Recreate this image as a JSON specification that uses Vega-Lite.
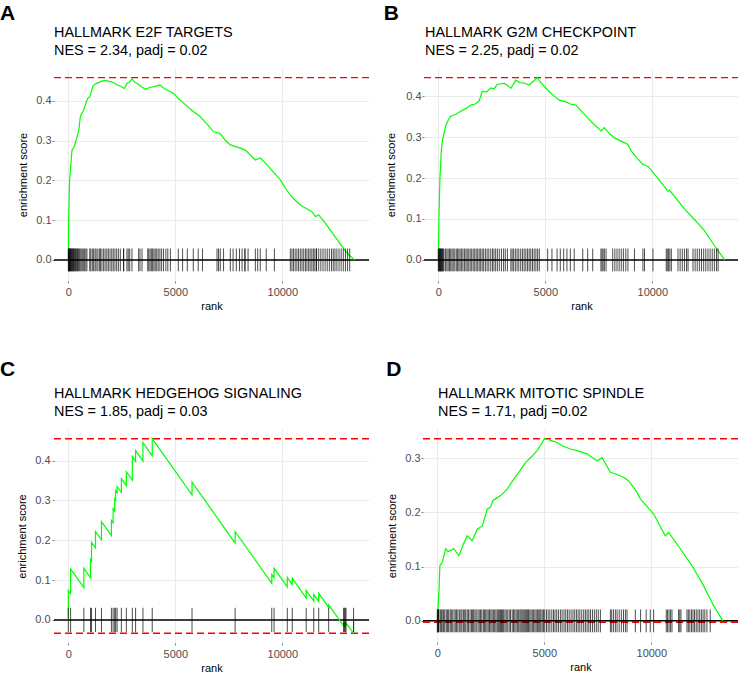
{
  "$schema": "https://vega.github.io/schema/vega-lite/v6.json",
  "padding": {"left": 0, "top": 3, "right": 0, "bottom": 0},
  "background": "white",
  "config": {
    "font": "Liberation Sans",
    "view": {"stroke": null},
    "title": {"font": "Liberation Sans", "color": "black", "anchor": "start", "frame": "group", "subtitleFont": "Liberation Sans", "subtitleColor": "black", "subtitleFontSize": 14.4, "subtitlePadding": 3, "fontWeight": "normal", "fontSize": 14.4},
    "axis": {"domain": false, "grid": true, "gridColor": "#EBEBEB", "gridWidth": 1, "tickColor": "#7F7F7F", "tickSize": 2, "labelColor": "#4D4D4D", "labelFontSize": 11, "labelFont": "Liberation Sans", "titleFont": "Liberation Sans", "titleFontSize": 11, "titleFontWeight": "normal", "titleColor": "black", "labelFlush": false, "labelOverlap": false},
    "axisX": {"labelPadding": 3.5, "titlePadding": 3},
    "axisY": {"labelPadding": 1}
  },
  "datasets": {
    "ticksA": [{"rank":0},{"rank":15},{"rank":30},{"rank":45},{"rank":60},{"rank":80},{"rank":100},{"rank":120},{"rank":140},{"rank":165},{"rank":190},{"rank":215},{"rank":240},{"rank":270},{"rank":300},{"rank":330},{"rank":360},{"rank":395},{"rank":430},{"rank":470},{"rank":510},{"rank":550},{"rank":600},{"rank":650},{"rank":700},{"rank":760},{"rank":820},{"rank":870},{"rank":1000},{"rank":1050},{"rank":1120},{"rank":1180},{"rank":1250},{"rank":1300},{"rank":1380},{"rank":1450},{"rank":1500},{"rank":1570},{"rank":1650},{"rank":1720},{"rank":1800},{"rank":1870},{"rank":1950},{"rank":2030},{"rank":2100},{"rank":2180},{"rank":2260},{"rank":2340},{"rank":2430},{"rank":2580},{"rank":2590},{"rank":2740},{"rank":2800},{"rank":2870},{"rank":2975},{"rank":3285},{"rank":3350},{"rank":3445},{"rank":3710},{"rank":3760},{"rank":3820},{"rank":3880},{"rank":3940},{"rank":4000},{"rank":4060},{"rank":4130},{"rank":4200},{"rank":4280},{"rank":4360},{"rank":4450},{"rank":4560},{"rank":4650},{"rank":4770},{"rank":5140},{"rank":5340},{"rank":5560},{"rank":5840},{"rank":6070},{"rank":6270},{"rank":6950},{"rank":7020},{"rank":7100},{"rank":7255},{"rank":7570},{"rank":7700},{"rank":7850},{"rank":8000},{"rank":8120},{"rank":8250},{"rank":8260},{"rank":8400},{"rank":8740},{"rank":8850},{"rank":8970},{"rank":9250},{"rank":9630},{"rank":10375},{"rank":10450},{"rank":10520},{"rank":10600},{"rank":10680},{"rank":10760},{"rank":10840},{"rank":10920},{"rank":11000},{"rank":11080},{"rank":11150},{"rank":11230},{"rank":11300},{"rank":11380},{"rank":11450},{"rank":11520},{"rank":11590},{"rank":11600},{"rank":11700},{"rank":11800},{"rank":11900},{"rank":12000},{"rank":12100},{"rank":12200},{"rank":12300},{"rank":12380},{"rank":12460},{"rank":12550},{"rank":12650},{"rank":12750},{"rank":12850},{"rank":12950},{"rank":13050},{"rank":13150}],
    "ticksB": [{"rank":0},{"rank":20},{"rank":40},{"rank":60},{"rank":80},{"rank":100},{"rank":125},{"rank":150},{"rank":175},{"rank":200},{"rank":230},{"rank":265},{"rank":340},{"rank":400},{"rank":460},{"rank":520},{"rank":580},{"rank":640},{"rank":700},{"rank":770},{"rank":840},{"rank":900},{"rank":960},{"rank":1020},{"rank":1090},{"rank":1150},{"rank":1220},{"rank":1290},{"rank":1350},{"rank":1420},{"rank":1490},{"rank":1560},{"rank":1630},{"rank":1700},{"rank":1770},{"rank":1840},{"rank":1910},{"rank":1980},{"rank":2050},{"rank":2120},{"rank":2200},{"rank":2280},{"rank":2360},{"rank":2450},{"rank":2530},{"rank":2600},{"rank":2680},{"rank":2760},{"rank":2850},{"rank":2950},{"rank":3050},{"rank":3130},{"rank":3230},{"rank":3390},{"rank":3450},{"rank":3520},{"rank":3600},{"rank":3680},{"rank":3760},{"rank":3850},{"rank":3930},{"rank":4010},{"rank":4090},{"rank":4170},{"rank":4245},{"rank":4320},{"rank":4400},{"rank":4480},{"rank":4560},{"rank":4640},{"rank":4720},{"rank":5110},{"rank":5310},{"rank":5550},{"rank":5700},{"rank":5860},{"rank":6010},{"rank":6170},{"rank":6350},{"rank":6750},{"rank":6980},{"rank":7215},{"rank":7600},{"rank":7650},{"rank":7700},{"rank":7760},{"rank":7840},{"rank":8150},{"rank":8250},{"rank":8350},{"rank":8450},{"rank":8550},{"rank":8650},{"rank":8760},{"rank":8860},{"rank":9165},{"rank":9560},{"rank":9635},{"rank":10030},{"rank":10650},{"rank":10700},{"rank":10760},{"rank":10820},{"rank":10890},{"rank":11200},{"rank":11300},{"rank":11400},{"rank":11500},{"rank":11600},{"rank":11670},{"rank":11900},{"rank":12000},{"rank":12100},{"rank":12200},{"rank":12300},{"rank":12400},{"rank":12500},{"rank":12600},{"rank":12700},{"rank":12800},{"rank":12900},{"rank":13000},{"rank":13075}],
    "ticksC": [{"rank":0},{"rank":107},{"rank":726},{"rank":1037},{"rank":1084},{"rank":1270},{"rank":1549},{"rank":2014},{"rank":2093},{"rank":2167},{"rank":2214},{"rank":2279},{"rank":2479},{"rank":2712},{"rank":2991},{"rank":3144},{"rank":3488},{"rank":3921},{"rank":5781},{"rank":7795},{"rank":9507},{"rank":9614},{"rank":10233},{"rank":10465},{"rank":11116},{"rank":11470},{"rank":11702},{"rank":12167},{"rank":12865},{"rank":12900},{"rank":12940},{"rank":12977},{"rank":13330}],
    "ticksD": [{"rank":0},{"rank":20},{"rank":40},{"rank":60},{"rank":77},{"rank":155},{"rank":200},{"rank":260},{"rank":300},{"rank":350},{"rank":420},{"rank":480},{"rank":530},{"rank":600},{"rank":650},{"rank":700},{"rank":780},{"rank":840},{"rank":900},{"rank":960},{"rank":1030},{"rank":1100},{"rank":1150},{"rank":1220},{"rank":1280},{"rank":1330},{"rank":1400},{"rank":1460},{"rank":1530},{"rank":1600},{"rank":1650},{"rank":1700},{"rank":1760},{"rank":1820},{"rank":1900},{"rank":1960},{"rank":2020},{"rank":2080},{"rank":2150},{"rank":2200},{"rank":2260},{"rank":2320},{"rank":2380},{"rank":2440},{"rank":2500},{"rank":2560},{"rank":2620},{"rank":2680},{"rank":2740},{"rank":2800},{"rank":2850},{"rank":2900},{"rank":2950},{"rank":3000},{"rank":3050},{"rank":3100},{"rank":3160},{"rank":3220},{"rank":3290},{"rank":3360},{"rank":3420},{"rank":3500},{"rank":3560},{"rank":3620},{"rank":3680},{"rank":3740},{"rank":3800},{"rank":3860},{"rank":3910},{"rank":3960},{"rank":4010},{"rank":4060},{"rank":4110},{"rank":4160},{"rank":4210},{"rank":4260},{"rank":4320},{"rank":4380},{"rank":4440},{"rank":4500},{"rank":4560},{"rank":4620},{"rank":4680},{"rank":4740},{"rank":4790},{"rank":4840},{"rank":4900},{"rank":4960},{"rank":5020},{"rank":5100},{"rank":5180},{"rank":5260},{"rank":5350},{"rank":5430},{"rank":5500},{"rank":5580},{"rank":5660},{"rank":5750},{"rank":5830},{"rank":5920},{"rank":6000},{"rank":6080},{"rank":6160},{"rank":6250},{"rank":6340},{"rank":6420},{"rank":6500},{"rank":6580},{"rank":6660},{"rank":6750},{"rank":6840},{"rank":6920},{"rank":7000},{"rank":7080},{"rank":7160},{"rank":7250},{"rank":7340},{"rank":7430},{"rank":7520},{"rank":7620},{"rank":8087},{"rank":8150},{"rank":8230},{"rank":8320},{"rank":8400},{"rank":8500},{"rank":8600},{"rank":8700},{"rank":8790},{"rank":8866},{"rank":9253},{"rank":9500},{"rank":9760},{"rank":9950},{"rank":10108},{"rank":10700},{"rank":10760},{"rank":10830},{"rank":10900},{"rank":10966},{"rank":11275},{"rank":11330},{"rank":11386},{"rank":11666},{"rank":11730},{"rank":11800},{"rank":11880},{"rank":11950},{"rank":12020},{"rank":12100},{"rank":12180},{"rank":12260},{"rank":12340},{"rank":12420},{"rank":12500},{"rank":12600},{"rank":12753}],
    "curveA": [{"rank":0,"es":0},{"rank":15,"es":0.1},{"rank":60,"es":0.2},{"rank":170,"es":0.276},{"rank":280,"es":0.285},{"rank":435,"es":0.314},{"rank":500,"es":0.33},{"rank":560,"es":0.36},{"rank":700,"es":0.375},{"rank":900,"es":0.406},{"rank":1000,"es":0.41},{"rank":1150,"es":0.437},{"rank":1300,"es":0.443},{"rank":1500,"es":0.448},{"rank":1700,"es":0.451},{"rank":1960,"es":0.448},{"rank":2100,"es":0.446},{"rank":2275,"es":0.44},{"rank":2450,"es":0.436},{"rank":2620,"es":0.431},{"rank":2740,"es":0.444},{"rank":2850,"es":0.446},{"rank":2975,"es":0.455},{"rank":3100,"es":0.447},{"rank":3210,"es":0.444},{"rank":3400,"es":0.436},{"rank":3600,"es":0.429},{"rank":3830,"es":0.434},{"rank":4050,"es":0.436},{"rank":4270,"es":0.44},{"rank":4450,"es":0.432},{"rank":4610,"es":0.427},{"rank":4920,"es":0.419},{"rank":5150,"es":0.405},{"rank":5390,"es":0.394},{"rank":5800,"es":0.375},{"rank":6170,"es":0.36},{"rank":6500,"es":0.34},{"rank":6790,"es":0.322},{"rank":6950,"es":0.32},{"rank":7100,"es":0.317},{"rank":7350,"es":0.3},{"rank":7570,"es":0.289},{"rank":8040,"es":0.281},{"rank":8270,"es":0.276},{"rank":8425,"es":0.268},{"rank":8600,"es":0.258},{"rank":8740,"es":0.251},{"rank":8970,"es":0.256},{"rank":9285,"es":0.239},{"rank":9600,"es":0.22},{"rank":9910,"es":0.201},{"rank":10150,"es":0.18},{"rank":10375,"es":0.163},{"rank":10600,"es":0.15},{"rank":10840,"es":0.138},{"rank":11100,"es":0.13},{"rank":11390,"es":0.121},{"rank":11540,"es":0.109},{"rank":11700,"es":0.113},{"rank":12000,"es":0.093},{"rank":12240,"es":0.075},{"rank":12550,"es":0.052},{"rank":12860,"es":0.029},{"rank":13100,"es":0.013},{"rank":13380,"es":0.0}],
    "curveB": [{"rank":0,"es":0},{"rank":30,"es":0.103},{"rank":75,"es":0.2},{"rank":140,"es":0.266},{"rank":190,"es":0.29},{"rank":340,"es":0.327},{"rank":450,"es":0.34},{"rank":575,"es":0.351},{"rank":800,"es":0.355},{"rank":1045,"es":0.363},{"rank":1300,"es":0.37},{"rank":1515,"es":0.378},{"rank":1700,"es":0.38},{"rank":1905,"es":0.388},{"rank":2060,"es":0.412},{"rank":2250,"es":0.41},{"rank":2450,"es":0.42},{"rank":2600,"es":0.418},{"rank":2765,"es":0.429},{"rank":3075,"es":0.431},{"rank":3250,"es":0.426},{"rank":3390,"es":0.419},{"rank":3620,"es":0.439},{"rank":3800,"es":0.433},{"rank":4010,"es":0.432},{"rank":4245,"es":0.427},{"rank":4450,"es":0.437},{"rank":4640,"es":0.445},{"rank":4800,"es":0.432},{"rank":4950,"es":0.424},{"rank":5200,"es":0.41},{"rank":5420,"es":0.4},{"rank":5650,"es":0.39},{"rank":5900,"es":0.387},{"rank":6200,"es":0.38},{"rank":6435,"es":0.378},{"rank":6700,"es":0.362},{"rank":6980,"es":0.347},{"rank":7300,"es":0.33},{"rank":7605,"es":0.315},{"rank":7760,"es":0.323},{"rank":8000,"es":0.308},{"rank":8230,"es":0.298},{"rank":8550,"es":0.29},{"rank":8860,"es":0.282},{"rank":9010,"es":0.266},{"rank":9300,"es":0.248},{"rank":9560,"es":0.233},{"rank":9795,"es":0.229},{"rank":10250,"es":0.2},{"rank":10730,"es":0.168},{"rank":10805,"es":0.17},{"rank":11150,"es":0.148},{"rank":11510,"es":0.124},{"rank":12000,"es":0.097},{"rank":12445,"es":0.071},{"rank":12995,"es":0.028},{"rank":13385,"es":0.0}],
    "curveC": [{"i":0,"rank":0,"es":0},{"i":1,"rank":0,"es":0.074},{"i":2,"rank":107,"es":0.066},{"i":3,"rank":107,"es":0.128},{"i":4,"rank":726,"es":0.081},{"i":5,"rank":726,"es":0.13},{"i":6,"rank":1037,"es":0.106},{"i":7,"rank":1037,"es":0.152},{"i":8,"rank":1084,"es":0.148},{"i":9,"rank":1084,"es":0.195},{"i":10,"rank":1270,"es":0.181},{"i":11,"rank":1270,"es":0.222},{"i":12,"rank":1549,"es":0.201},{"i":13,"rank":1549,"es":0.247},{"i":14,"rank":2014,"es":0.212},{"i":15,"rank":2014,"es":0.25},{"i":16,"rank":2093,"es":0.244},{"i":17,"rank":2093,"es":0.279},{"i":18,"rank":2167,"es":0.273},{"i":19,"rank":2167,"es":0.304},{"i":20,"rank":2214,"es":0.3},{"i":21,"rank":2214,"es":0.325},{"i":22,"rank":2279,"es":0.32},{"i":23,"rank":2279,"es":0.335},{"i":24,"rank":2479,"es":0.32},{"i":25,"rank":2479,"es":0.355},{"i":26,"rank":2712,"es":0.337},{"i":27,"rank":2712,"es":0.372},{"i":28,"rank":2991,"es":0.351},{"i":29,"rank":2991,"es":0.41},{"i":30,"rank":3144,"es":0.398},{"i":31,"rank":3144,"es":0.425},{"i":32,"rank":3488,"es":0.399},{"i":33,"rank":3488,"es":0.445},{"i":34,"rank":3921,"es":0.412},{"i":35,"rank":3921,"es":0.455},{"i":36,"rank":5781,"es":0.314},{"i":37,"rank":5781,"es":0.346},{"i":38,"rank":7795,"es":0.193},{"i":39,"rank":7795,"es":0.222},{"i":40,"rank":9507,"es":0.092},{"i":41,"rank":9507,"es":0.114},{"i":42,"rank":9614,"es":0.106},{"i":43,"rank":9614,"es":0.13},{"i":44,"rank":10233,"es":0.083},{"i":45,"rank":10233,"es":0.107},{"i":46,"rank":10465,"es":0.089},{"i":47,"rank":10465,"es":0.105},{"i":48,"rank":11116,"es":0.055},{"i":49,"rank":11116,"es":0.074},{"i":50,"rank":11470,"es":0.047},{"i":51,"rank":11470,"es":0.064},{"i":52,"rank":11702,"es":0.046},{"i":53,"rank":11702,"es":0.067},{"i":54,"rank":12167,"es":0.031},{"i":55,"rank":12167,"es":0.038},{"i":56,"rank":12865,"es":-0.015},{"i":57,"rank":12865,"es":-0.011},{"i":58,"rank":12900,"es":-0.014},{"i":59,"rank":12900,"es":-0.01},{"i":60,"rank":12940,"es":-0.013},{"i":61,"rank":12940,"es":-0.009},{"i":62,"rank":12977,"es":-0.012},{"i":63,"rank":12977,"es":-0.008},{"i":64,"rank":13330,"es":-0.0335},{"i":65,"rank":13330,"es":0.0}],
    "curveD": [{"rank":0,"es":0},{"rank":75,"es":0.053},{"rank":120,"es":0.102},{"rank":233,"es":0.108},{"rank":387,"es":0.133},{"rank":500,"es":0.128},{"rank":620,"es":0.13},{"rank":775,"es":0.133},{"rank":1008,"es":0.12},{"rank":1200,"es":0.14},{"rank":1400,"es":0.157},{"rank":1633,"es":0.148},{"rank":1866,"es":0.169},{"rank":2100,"es":0.175},{"rank":2333,"es":0.206},{"rank":2490,"es":0.21},{"rank":2600,"es":0.222},{"rank":2720,"es":0.225},{"rank":2955,"es":0.231},{"rank":3266,"es":0.243},{"rank":3577,"es":0.262},{"rank":3810,"es":0.274},{"rank":4120,"es":0.292},{"rank":4433,"es":0.304},{"rank":4666,"es":0.314},{"rank":4900,"es":0.329},{"rank":5000,"es":0.336},{"rank":5133,"es":0.335},{"rank":5366,"es":0.332},{"rank":5600,"es":0.329},{"rank":5833,"es":0.323},{"rank":6220,"es":0.317},{"rank":6533,"es":0.314},{"rank":7000,"es":0.308},{"rank":7466,"es":0.295},{"rank":7700,"es":0.301},{"rank":8087,"es":0.274},{"rank":8400,"es":0.27},{"rank":8708,"es":0.265},{"rank":8941,"es":0.258},{"rank":9333,"es":0.237},{"rank":9487,"es":0.225},{"rank":10108,"es":0.197},{"rank":10653,"es":0.157},{"rank":10807,"es":0.163},{"rank":11353,"es":0.133},{"rank":11898,"es":0.102},{"rank":12440,"es":0.065},{"rank":12907,"es":0.028},{"rank":13345,"es":0.0}]
  },
  "vconcat": [
    {
      "spacing": 13,
      "hconcat": [
        {
          "title": {"text": "A", "fontSize": 21, "fontWeight": "bold", "dx": -54, "offset": 1},
          "vconcat": [
            {
              "width": 315, "height": 213,
              "title": {"text": "HALLMARK E2F TARGETS", "subtitle": "NES = 2.34, padj = 0.02", "offset": 10},
              "layer": [
                {"data": {"values": [{}]}, "mark": {"type": "rule", "color": "#FF0000", "strokeDash": [7, 4], "strokeWidth": 1.4}, "encoding": {"y": {"datum": 0.458, "type": "quantitative", "scale": {"domain": [-0.053, 0.4823], "nice": false, "zero": false}}}},
                {"data": {"values": [{}]}, "mark": {"type": "rule", "color": "black", "strokeWidth": 1.5}, "encoding": {"y": {"datum": 0, "type": "quantitative", "scale": {"domain": [-0.053, 0.4823], "nice": false, "zero": false}}}},
                {"data": {"name": "curveA"}, "mark": {"type": "line", "color": "#00FF00", "strokeWidth": 1.2}, "encoding": {
                  "x": {"field": "rank", "type": "quantitative", "scale": {"domain": [-669, 14051], "nice": false, "zero": false}, "axis": {"values": [0, 5000, 10000], "format": "d", "title": "rank"}},
                  "y": {"field": "es", "type": "quantitative", "scale": {"domain": [-0.053, 0.4823], "nice": false, "zero": false}, "axis": {"values": [0, 0.1, 0.2, 0.3, 0.4], "format": ".1f", "title": "enrichment score", "titlePadding": 7}}}},
                {"data": {"name": "ticksA"}, "mark": {"type": "rule", "color": "black", "strokeWidth": 0.7}, "encoding": {
                  "x": {"field": "rank", "type": "quantitative", "scale": {"domain": [-669, 14051], "nice": false, "zero": false}},
                  "y": {"datum": -0.0286, "type": "quantitative", "scale": {"domain": [-0.053, 0.4823], "nice": false, "zero": false}},
                  "y2": {"datum": 0.0286}}}
              ]
            }
          ]
        },
        {
          "title": {"text": "B", "fontSize": 21, "fontWeight": "bold", "dx": -40.3, "offset": 1},
          "vconcat": [
            {
              "width": 315, "height": 213,
              "title": {"text": "HALLMARK G2M CHECKPOINT", "subtitle": "NES = 2.25, padj = 0.02", "offset": 10, "dx": 1},
              "layer": [
                {"data": {"values": [{}]}, "mark": {"type": "rule", "color": "#FF0000", "strokeDash": [7, 4], "strokeWidth": 1.4}, "encoding": {"y": {"datum": 0.445, "type": "quantitative", "scale": {"domain": [-0.0514, 0.4686], "nice": false, "zero": false}}}},
                {"data": {"values": [{}]}, "mark": {"type": "rule", "color": "black", "strokeWidth": 1.5}, "encoding": {"y": {"datum": 0, "type": "quantitative", "scale": {"domain": [-0.0514, 0.4686], "nice": false, "zero": false}}}},
                {"data": {"name": "curveB"}, "mark": {"type": "line", "color": "#00FF00", "strokeWidth": 1.2}, "encoding": {
                  "x": {"field": "rank", "type": "quantitative", "scale": {"domain": [-669, 14051], "nice": false, "zero": false}, "axis": {"values": [0, 5000, 10000], "format": "d", "title": "rank"}},
                  "y": {"field": "es", "type": "quantitative", "scale": {"domain": [-0.0514, 0.4686], "nice": false, "zero": false}, "axis": {"values": [0, 0.1, 0.2, 0.3, 0.4], "format": ".1f", "title": "enrichment score", "titlePadding": 9}}}},
                {"data": {"name": "ticksB"}, "mark": {"type": "rule", "color": "black", "strokeWidth": 0.7}, "encoding": {
                  "x": {"field": "rank", "type": "quantitative", "scale": {"domain": [-669, 14051], "nice": false, "zero": false}},
                  "y": {"datum": -0.0278, "type": "quantitative", "scale": {"domain": [-0.0514, 0.4686], "nice": false, "zero": false}},
                  "y2": {"datum": 0.0278}}}
              ]
            }
          ]
        }
      ]
    },
    {
      "spacing": 16,
      "hconcat": [
        {
          "title": {"text": "C", "fontSize": 21, "fontWeight": "bold", "dx": -54, "offset": 6},
          "vconcat": [
            {
              "width": 315, "height": 214,
              "title": {"text": "HALLMARK HEDGEHOG SIGNALING", "subtitle": "NES = 1.85, padj = 0.03", "offset": 10},
              "layer": [
                {"data": {"values": [{}]}, "mark": {"type": "rule", "color": "#FF0000", "strokeDash": [7, 4], "strokeWidth": 1.4}, "encoding": {"y": {"datum": 0.455, "type": "quantitative", "scale": {"domain": [-0.0579, 0.4794], "nice": false, "zero": false}}}},
                {"data": {"values": [{}]}, "mark": {"type": "rule", "color": "#FF0000", "strokeDash": [7, 4], "strokeWidth": 1.4}, "encoding": {"y": {"datum": -0.0335, "type": "quantitative", "scale": {"domain": [-0.0579, 0.4794], "nice": false, "zero": false}}}},
                {"data": {"values": [{}]}, "mark": {"type": "rule", "color": "black", "strokeWidth": 1.5}, "encoding": {"y": {"datum": 0, "type": "quantitative", "scale": {"domain": [-0.0579, 0.4794], "nice": false, "zero": false}}}},
                {"data": {"name": "curveC"}, "mark": {"type": "line", "color": "#00FF00", "strokeWidth": 1.2}, "encoding": {
                  "x": {"field": "rank", "type": "quantitative", "scale": {"domain": [-669, 14051], "nice": false, "zero": false}, "axis": {"values": [0, 5000, 10000], "format": "d", "title": "rank"}},
                  "y": {"field": "es", "type": "quantitative", "scale": {"domain": [-0.0579, 0.4794], "nice": false, "zero": false}, "axis": {"values": [0, 0.1, 0.2, 0.3, 0.4], "format": ".1f", "title": "enrichment score", "titlePadding": 7, "labelPadding": 2}},
                  "order": {"field": "i", "type": "quantitative"}}},
                {"data": {"name": "ticksC"}, "mark": {"type": "rule", "color": "black", "strokeWidth": 0.7}, "encoding": {
                  "x": {"field": "rank", "type": "quantitative", "scale": {"domain": [-669, 14051], "nice": false, "zero": false}},
                  "y": {"datum": -0.0305, "type": "quantitative", "scale": {"domain": [-0.0579, 0.4794], "nice": false, "zero": false}},
                  "y2": {"datum": 0.0305}}}
              ]
            }
          ]
        },
        {
          "title": {"text": "D", "fontSize": 21, "fontWeight": "bold", "dx": -36.7, "offset": 6},
          "vconcat": [
            {
              "width": 315, "height": 213,
              "title": {"text": "HALLMARK MITOTIC SPINDLE", "subtitle": "NES = 1.71, padj =0.02", "offset": 10, "dx": 15},
              "layer": [
                {"data": {"values": [{}]}, "mark": {"type": "rule", "color": "#FF0000", "strokeDash": [7, 4], "strokeWidth": 1.4}, "encoding": {"y": {"datum": 0.336, "type": "quantitative", "scale": {"domain": [-0.039, 0.3539], "nice": false, "zero": false}}}},
                {"data": {"values": [{}]}, "mark": {"type": "rule", "color": "#FF0000", "strokeDash": [7, 4], "strokeWidth": 1.4}, "encoding": {"y": {"datum": -0.0025, "type": "quantitative", "scale": {"domain": [-0.039, 0.3539], "nice": false, "zero": false}}}},
                {"data": {"values": [{}]}, "mark": {"type": "rule", "color": "black", "strokeWidth": 1.5}, "encoding": {"y": {"datum": 0, "type": "quantitative", "scale": {"domain": [-0.039, 0.3539], "nice": false, "zero": false}}}},
                {"data": {"name": "curveD"}, "mark": {"type": "line", "color": "#00FF00", "strokeWidth": 1.2}, "encoding": {
                  "x": {"field": "rank", "type": "quantitative", "scale": {"domain": [-669, 14051], "nice": false, "zero": false}, "axis": {"values": [0, 5000, 10000], "format": "d", "title": "rank"}},
                  "y": {"field": "es", "type": "quantitative", "scale": {"domain": [-0.039, 0.3539], "nice": false, "zero": false}, "axis": {"values": [0, 0.1, 0.2, 0.3], "format": ".1f", "title": "enrichment score", "titlePadding": 7}}}},
                {"data": {"name": "ticksD"}, "mark": {"type": "rule", "color": "black", "strokeWidth": 0.7}, "encoding": {
                  "x": {"field": "rank", "type": "quantitative", "scale": {"domain": [-669, 14051], "nice": false, "zero": false}},
                  "y": {"datum": -0.0211, "type": "quantitative", "scale": {"domain": [-0.039, 0.3539], "nice": false, "zero": false}},
                  "y2": {"datum": 0.0211}}}
              ]
            }
          ]
        }
      ]
    }
  ],
  "spacing": 47
}
